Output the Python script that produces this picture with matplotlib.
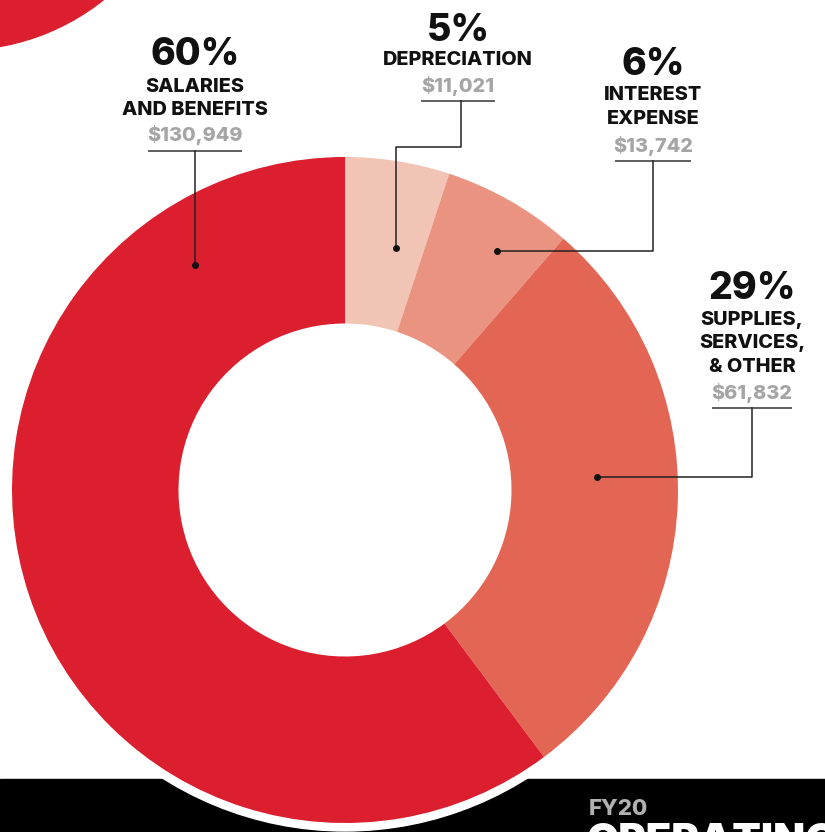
import matplotlib
matplotlib.use("Agg")
import matplotlib.pyplot as plt
from matplotlib.patches import Circle, Rectangle

# ---- data ----
categories = ["DEPRECIATION", "INTEREST\nEXPENSE", "SUPPLIES,\nSERVICES,\n& OTHER", "SALARIES\nAND BENEFITS"]
values = [11021, 13742, 61832, 130949]
percent_labels = ["5%", "6%", "29%", "60%"]
amount_labels = ["$11,021", "$13,742", "$61,832", "$130,949"]
colors = ["#F2C4B5", "#EA9380", "#E26653", "#DC1F2F"]

W, H = 825, 832
fig = plt.figure(figsize=(W / 100, H / 100), dpi=100)
ax = fig.add_axes([0, 0, 1, 1])

def Y(y):
    return H - y

FONT = "Inter"

# background decorations
ax.add_patch(Circle((-40, Y(-180)), 230, color="#DC1F2F", zorder=1))
ax.add_patch(Rectangle((0, 0), W, Y(779), color="black", zorder=1))
cx, cy, R = 345, Y(490), 333
ax.add_patch(Circle((cx, cy), R + 8, color="white", zorder=2))

wedges, _ = ax.pie(values, radius=R, center=(cx, cy), startangle=90,
                   counterclock=False, colors=colors,
                   wedgeprops=dict(width=R * 0.5, linewidth=0, zorder=3))
for w in wedges:
    w.set_zorder(3)

# baselines (image px from top): percent, first name line, line height, amount, underline
layout = [
    dict(x=458, yp=41, yn=65, lh=23, ya=92, yu=100.5, hw=37,
         path=[(461, 100.5), (461, 147), (396, 147), (396, 248)]),
    dict(x=653, yp=75, yn=100, lh=23.5, ya=152, yu=160.5, hw=38,
         path=[(653, 160.5), (653, 251), (497, 251)]),
    dict(x=752, yp=299, yn=325, lh=23.5, ya=399, yu=408, hw=40,
         path=[(752, 408), (752, 477), (597, 477)]),
    dict(x=195, yp=65, yn=92, lh=23, ya=141, yu=150.5, hw=47,
         path=[(195, 150.5), (195, 265)]),
]

for cat, pct, amt, L in zip(categories, percent_labels, amount_labels, layout):
    ax.text(L["x"], Y(L["yp"]), pct, ha="center", va="baseline", fontsize=27,
            fontweight="heavy", family=FONT, color="#111111", zorder=5)
    lines = cat.split("\n")
    for i, ln in enumerate(lines):
        ax.text(L["x"], Y(L["yn"] + i * L["lh"]), ln, ha="center", va="baseline",
                fontsize=14.3, fontweight="heavy", family=FONT, color="#111111", zorder=5)
    ax.text(L["x"], Y(L["ya"]), amt, ha="center", va="baseline",
            fontsize=14.3, fontweight="heavy", family=FONT, color="#A5A5A5", zorder=5)
    ax.plot([L["x"] - L["hw"], L["x"] + L["hw"]], [Y(L["yu"])] * 2, color="#444444",
            lw=1.2, zorder=5, solid_capstyle="butt")
    px = [p[0] for p in L["path"]]
    py = [Y(p[1]) for p in L["path"]]
    ax.plot(px, py, color="#222222", lw=1.1, zorder=5)
    ax.plot(px[-1], py[-1], "o", color="#111111", ms=4, zorder=6)

ax.text(589, Y(815), "FY20", ha="left", va="baseline", fontsize=16, fontweight="heavy",
        family=FONT, color="#B0B0B0", zorder=5)
ax.text(587, Y(853), "OPERATING", ha="left", va="baseline", fontsize=30, fontweight="black",
        family=FONT, color="white", zorder=5)

ax.set_xlim(0, W)
ax.set_ylim(0, H)
ax.set_aspect("auto")
ax.axis("off")
fig.savefig("out.png", dpi=100, facecolor="white")
